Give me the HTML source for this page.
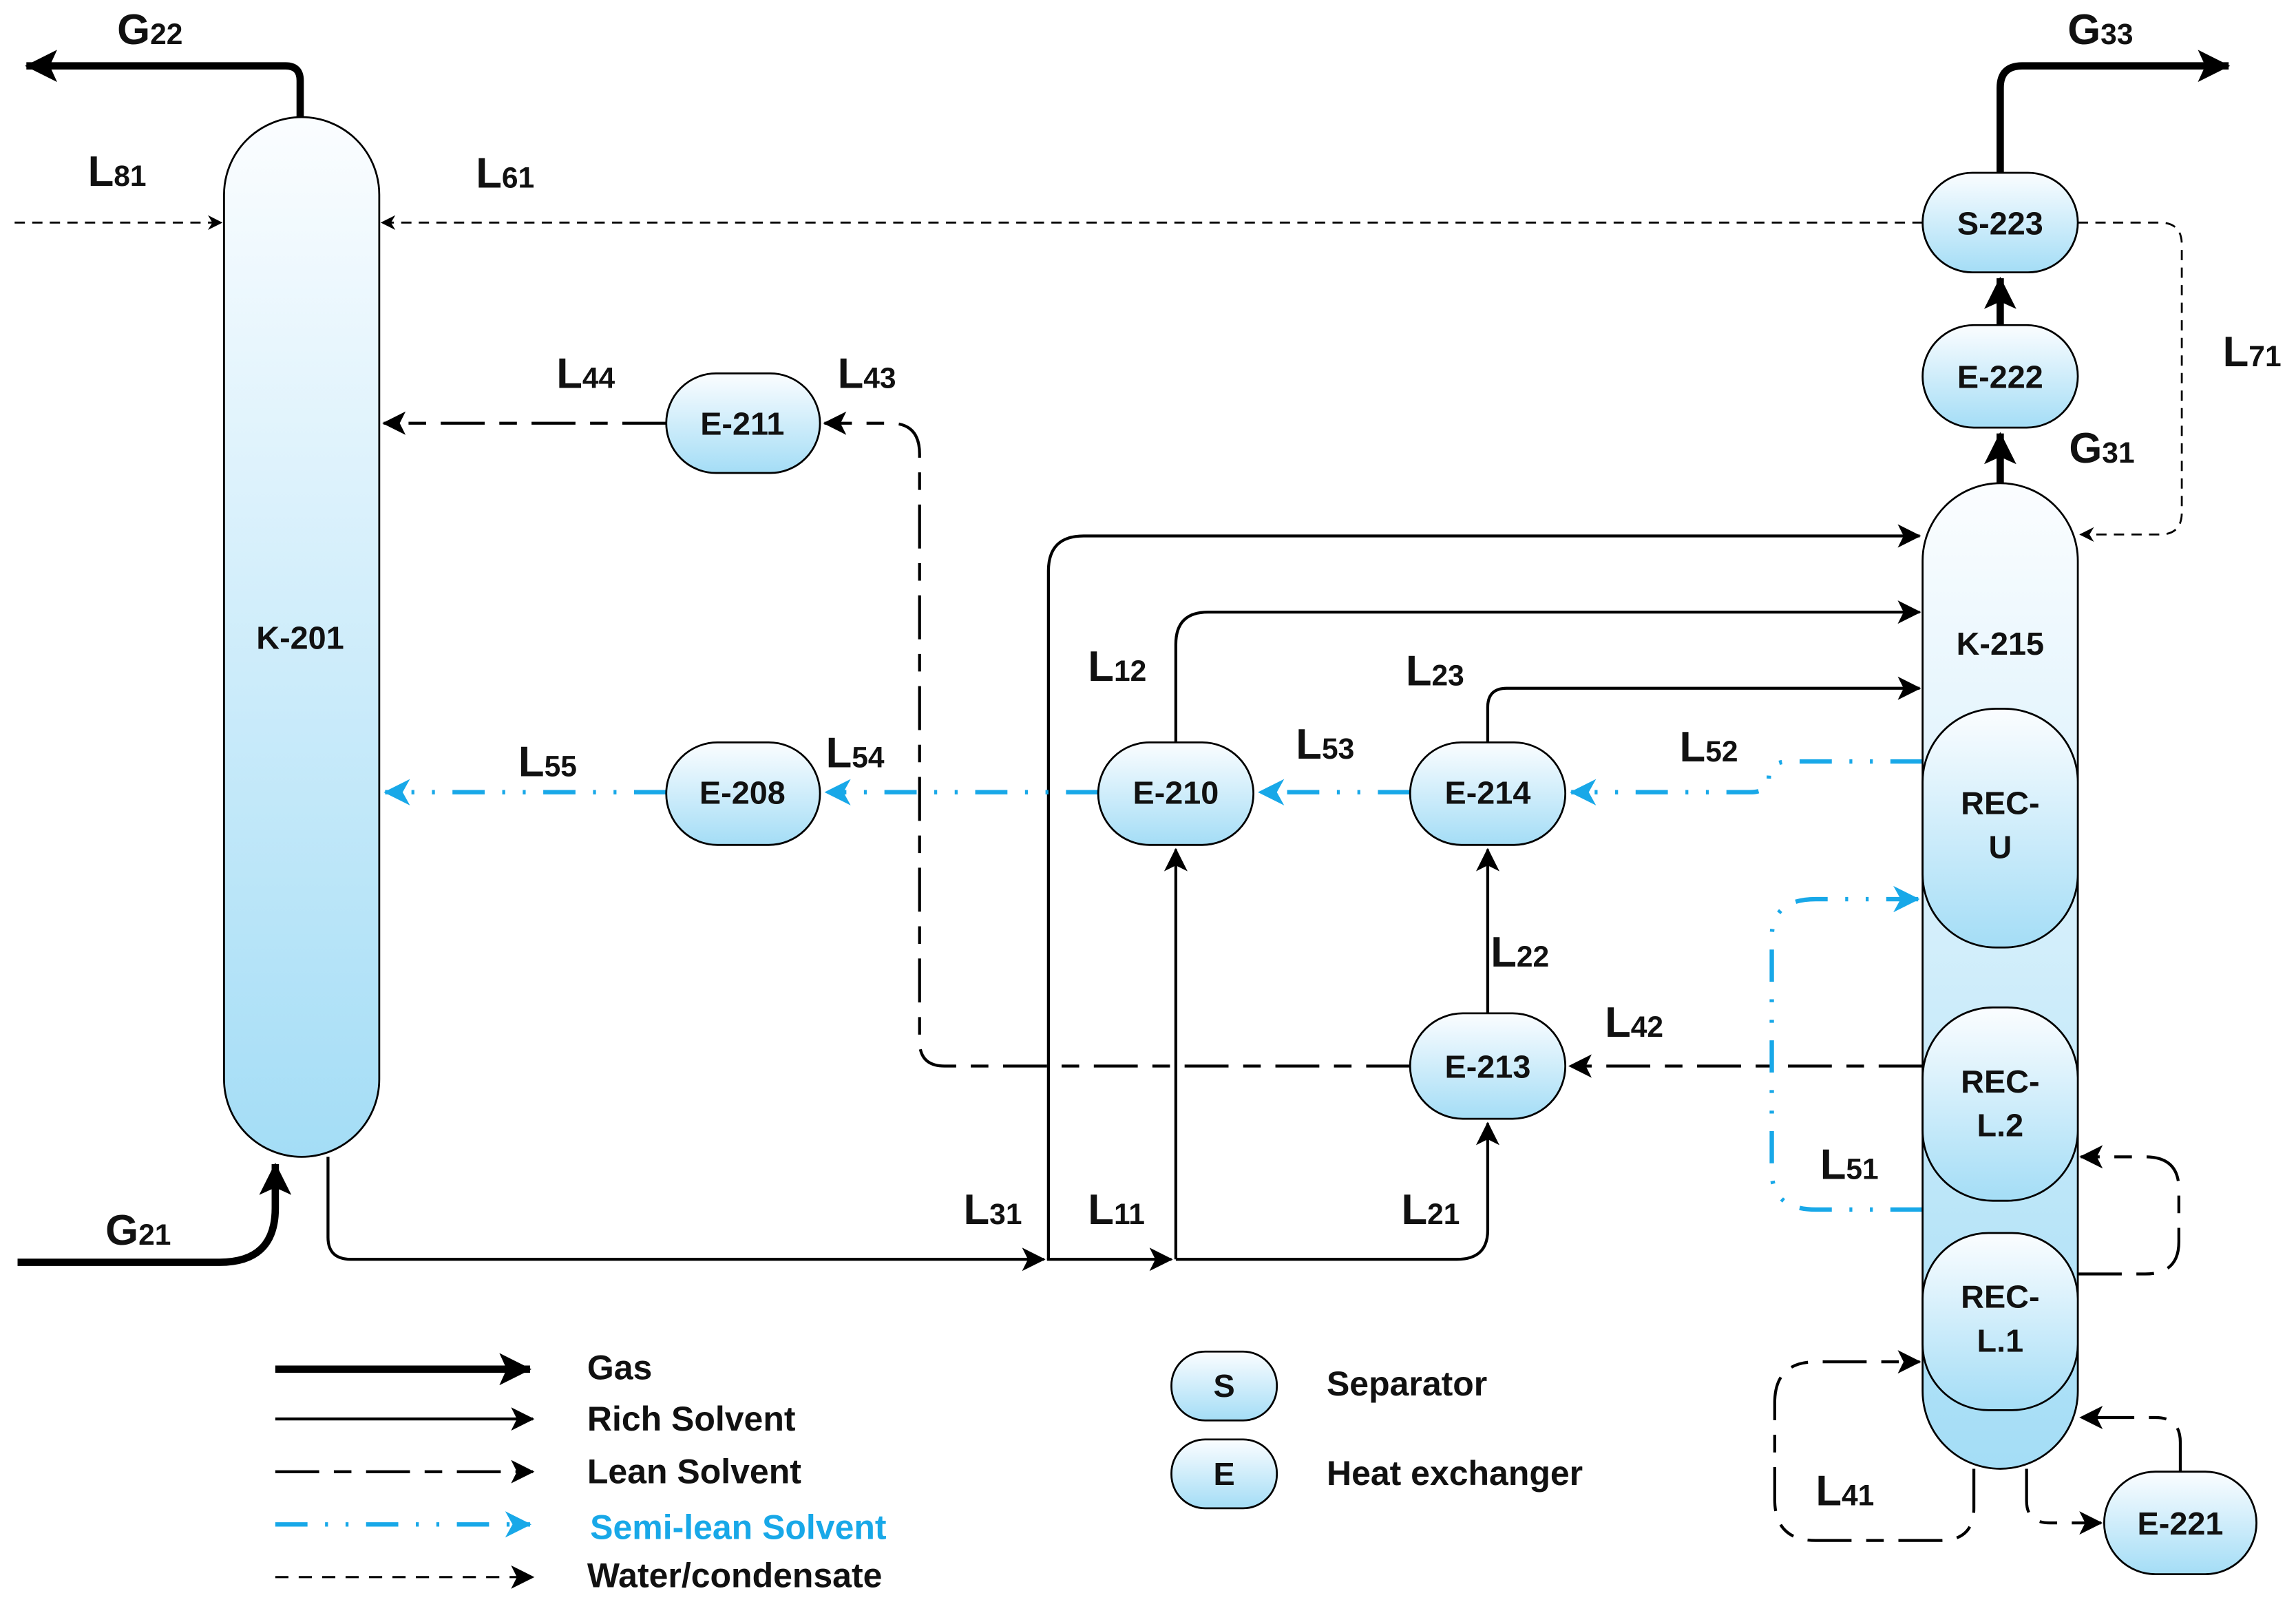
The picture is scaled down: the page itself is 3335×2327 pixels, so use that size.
<!DOCTYPE html>
<html><head><meta charset="utf-8"><style>
html,body{margin:0;padding:0;background:#fff;}
svg{display:block;}
text{font-family:"Liberation Sans",sans-serif;font-weight:bold;fill:#111;}
.lb{font-size:29px;}
.sb{font-size:20px;}
.nd{font-size:22px;text-anchor:middle;}
.lg{font-size:23.5px;}
</style></head><body>
<svg width="3335" height="2327" viewBox="0 0 1568 1094" preserveAspectRatio="none" xmlns="http://www.w3.org/2000/svg">
<defs>
<linearGradient id="g" x1="0" y1="0" x2="0" y2="1"><stop offset="0" stop-color="#fbfdff"/><stop offset="1" stop-color="#a4ddf6"/></linearGradient>
<marker id="a" markerWidth="10" markerHeight="10" refX="9" refY="5" orient="auto" markerUnits="userSpaceOnUse" viewBox="0 0 10 10"><path d="M0,0 L10,5 L0,10 L3,5 Z" fill="#000"/></marker>
<marker id="am" markerWidth="16" markerHeight="16" refX="15" refY="8" orient="auto" markerUnits="userSpaceOnUse" viewBox="0 0 16 16"><path d="M0,0 L16,8 L0,16 L4,8 Z" fill="#000"/></marker>
<marker id="ab" markerWidth="18" markerHeight="18" refX="17" refY="9" orient="auto" markerUnits="userSpaceOnUse" viewBox="0 0 18 18"><path d="M0,0 L18,9 L0,18 L5,9 Z" fill="#18a8e8"/></marker>
<marker id="ag" markerWidth="22" markerHeight="22" refX="21" refY="11" orient="auto" markerUnits="userSpaceOnUse" viewBox="0 0 22 22"><path d="M0,0 L22,11 L0,22 L5,11 Z" fill="#000"/></marker>
</defs>
<g fill="none" stroke="#000">
<path d="M205,80 V55 Q205,45 195,45 H18" stroke-width="5" marker-end="url(#ag)"/>
<path d="M1366,118 V60 Q1366,45 1381,45 H1522" stroke-width="5" marker-end="url(#ag)"/>
<path d="M1366,330 V296" stroke-width="5" marker-end="url(#ag)"/>
<path d="M1366,222 V190" stroke-width="5" marker-end="url(#ag)"/>
<path d="M12,862 H150 Q188,862 188,825 V795" stroke-width="5" marker-end="url(#ag)"/>
<path d="M10,152 H151" stroke-width="1.3" stroke-dasharray="7,5" marker-end="url(#a)"/>
<path d="M1313,152 H261" stroke-width="1.3" stroke-dasharray="7,5" marker-end="url(#a)"/>
<path d="M1419,152 H1475 Q1490,152 1490,167 V350 Q1490,365 1475,365 H1421" stroke-width="1.3" stroke-dasharray="7,5" marker-end="url(#a)"/>
<path d="M455,289 H262" stroke-width="2" stroke-dasharray="30,10,12,10" marker-end="url(#am)"/>
<path d="M963,728 H645 Q628,728 628,711 V310 Q628,289 608,289 H563" stroke-width="2" stroke-dasharray="30,10,12,10" marker-end="url(#am)"/>
<path d="M1313,728 H1072" stroke-width="2" stroke-dasharray="30,10,12,10" marker-end="url(#am)"/>
<path d="M1419,870 H1465 Q1488,870 1488,848 V812 Q1488,790 1465,790 H1421" stroke-width="2" stroke-dasharray="30,10,12,10" marker-end="url(#am)"/>
<path d="M1348,1003 V1030 Q1348,1052 1325,1052 H1240 Q1212,1052 1212,1024 V958 Q1212,930 1240,930 H1311" stroke-width="2" stroke-dasharray="30,10,12,10" marker-end="url(#am)"/>
<path d="M1384,1003 V1025 Q1384,1040 1400,1040 H1435" stroke-width="2" stroke-dasharray="30,10,12,10" marker-end="url(#am)"/>
<path d="M1489,1005 V985 Q1489,968 1472,968 H1421" stroke-width="2" stroke-dasharray="30,10,12,10" marker-end="url(#am)"/>
<path d="M224,790 V845 Q224,860 240,860 H713" stroke-width="2" marker-end="url(#am)"/>
<path d="M715,860 H800" stroke-width="2" marker-end="url(#am)"/>
<path d="M803,860 H995 Q1016,860 1016,840 V767" stroke-width="2" marker-end="url(#am)"/>
<path d="M803,860 V580" stroke-width="2" marker-end="url(#am)"/>
<path d="M716,860 V390 Q716,366 740,366 H1311" stroke-width="2" marker-end="url(#am)"/>
<path d="M803,507 V440 Q803,418 825,418 H1311" stroke-width="2" marker-end="url(#am)"/>
<path d="M1016,507 V483 Q1016,470 1029,470 H1311" stroke-width="2" marker-end="url(#am)"/>
<path d="M1016,692 V580" stroke-width="2" marker-end="url(#am)"/>
<g stroke="#18a8e8" stroke-width="3" stroke-dasharray="22,12,2,12,2,12">
<path d="M455,541 H263" marker-end="url(#ab)"/>
<path d="M750,541 H564" marker-end="url(#ab)"/>
<path d="M963,541 H860" marker-end="url(#ab)"/>
<path d="M1313,520 H1222 Q1208,520 1208,531 Q1208,541 1195,541 H1073" marker-end="url(#ab)"/>
<path d="M1313,826 H1240 Q1210,826 1210,800 V640 Q1210,614 1240,614 H1310" marker-end="url(#ab)"/>
</g>
<path d="M188,935 H362" stroke-width="5" marker-end="url(#ag)"/>
<path d="M188,969 H364" stroke-width="2" marker-end="url(#am)"/>
<path d="M188,1005 H364" stroke-width="2" stroke-dasharray="30,10,12,10" marker-end="url(#am)"/>
<path d="M188,1041 H362" stroke="#18a8e8" stroke-width="3" stroke-dasharray="22,12,2,12,2,12" marker-end="url(#ab)"/>
<path d="M188,1077 H364" stroke-width="1.5" stroke-dasharray="9,7" marker-end="url(#am)"/>
</g>
<g stroke="#000" stroke-width="1.3" fill="url(#g)">
<rect x="153" y="80" width="106" height="710" rx="53"/>
<rect x="1313" y="330" width="106" height="673" rx="53"/>
<rect x="1313" y="484" width="106" height="163" rx="50"/>
<rect x="1313" y="688" width="106" height="132" rx="48"/>
<rect x="1313" y="842" width="106" height="121" rx="45"/>
<rect x="1313" y="118" width="106" height="68" rx="34"/>
<rect x="1313" y="222" width="106" height="70" rx="35"/>
<rect x="455" y="255" width="105" height="68" rx="34"/>
<rect x="455" y="507" width="105" height="70" rx="35"/>
<rect x="750" y="507" width="106" height="70" rx="35"/>
<rect x="963" y="507" width="106" height="70" rx="35"/>
<rect x="963" y="692" width="106" height="72" rx="36"/>
<rect x="1437" y="1005" width="104" height="70" rx="35"/>
<rect x="800" y="923" width="72" height="47" rx="23"/>
<rect x="800" y="983" width="72" height="47" rx="23"/>
</g>
<text class="nd" x="205" y="443">K-201</text>
<text class="nd" x="1366" y="447">K-215</text>
<text class="nd" x="1366" y="556">REC-</text><text class="nd" x="1366" y="586">U</text>
<text class="nd" x="1366" y="746">REC-</text><text class="nd" x="1366" y="776">L.2</text>
<text class="nd" x="1366" y="893">REC-</text><text class="nd" x="1366" y="923">L.1</text>
<text class="nd" x="1366" y="160">S-223</text>
<text class="nd" x="1366" y="265">E-222</text>
<text class="nd" x="507" y="297">E-211</text>
<text class="nd" x="507" y="549">E-208</text>
<text class="nd" x="803" y="549">E-210</text>
<text class="nd" x="1016" y="549">E-214</text>
<text class="nd" x="1016" y="736">E-213</text>
<text class="nd" x="1489" y="1048">E-221</text>
<text class="nd" x="836" y="954">S</text>
<text class="nd" x="836" y="1014">E</text>
<g class="lb">
<text x="80" y="30">G<tspan class="sb">22</tspan></text>
<text x="1412" y="30">G<tspan class="sb">33</tspan></text>
<text x="1413" y="316">G<tspan class="sb">31</tspan></text>
<text x="72" y="850">G<tspan class="sb">21</tspan></text>
<text x="60" y="127">L<tspan class="sb">81</tspan></text>
<text x="325" y="128">L<tspan class="sb">61</tspan></text>
<text x="1518" y="250">L<tspan class="sb">71</tspan></text>
<text x="380" y="265">L<tspan class="sb">44</tspan></text>
<text x="572" y="265">L<tspan class="sb">43</tspan></text>
<text x="354" y="530">L<tspan class="sb">55</tspan></text>
<text x="564" y="524">L<tspan class="sb">54</tspan></text>
<text x="885" y="518">L<tspan class="sb">53</tspan></text>
<text x="1147" y="520">L<tspan class="sb">52</tspan></text>
<text x="743" y="465">L<tspan class="sb">12</tspan></text>
<text x="960" y="468">L<tspan class="sb">23</tspan></text>
<text x="1018" y="660">L<tspan class="sb">22</tspan></text>
<text x="1096" y="708">L<tspan class="sb">42</tspan></text>
<text x="1243" y="805">L<tspan class="sb">51</tspan></text>
<text x="658" y="836">L<tspan class="sb">31</tspan></text>
<text x="743" y="836">L<tspan class="sb">11</tspan></text>
<text x="957" y="836">L<tspan class="sb">21</tspan></text>
<text x="1240" y="1028">L<tspan class="sb">41</tspan></text>
</g>
<g class="lg">
<text x="401" y="942">Gas</text>
<text x="401" y="977">Rich Solvent</text>
<text x="401" y="1013">Lean Solvent</text>
<text x="403" y="1051" style="fill:#18a8e8">Semi-lean Solvent</text>
<text x="401" y="1084">Water/condensate</text>
<text x="906" y="953">Separator</text>
<text x="906" y="1014">Heat exchanger</text>
</g>
</svg>
</body></html>
